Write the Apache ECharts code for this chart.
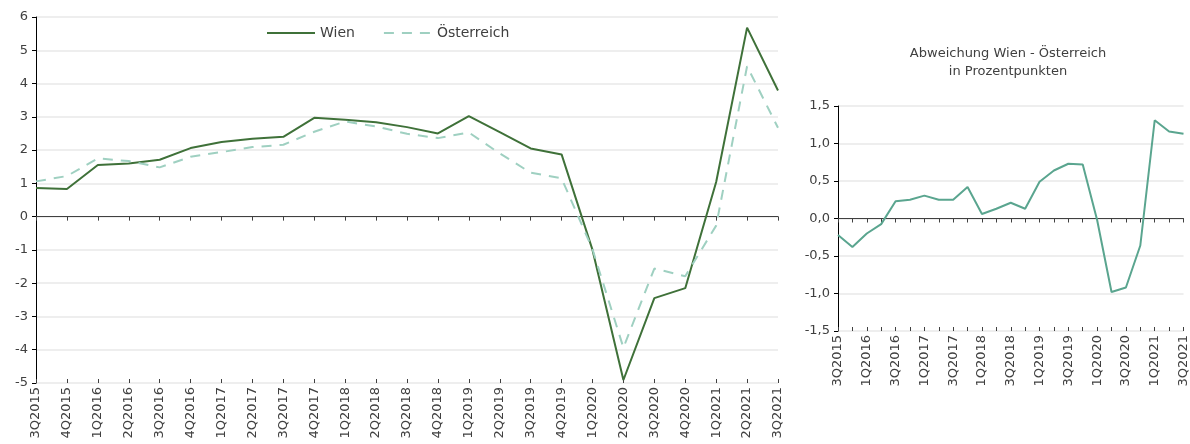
<!DOCTYPE html>
<html>
<head>
<meta charset="utf-8">
<script src="https://cdn.jsdelivr.net/npm/echarts@6/dist/echarts.min.js"></script>
<style>
  html, body { margin: 0; padding: 0; background: #fff; }
  #main { width: 1190px; height: 444px; }
</style>
</head>
<body>
<div id="main"></div>
<script>
// Quartale
var quarters = ['3Q2015', '4Q2015', '1Q2016', '2Q2016', '3Q2016', '4Q2016', '1Q2017', '2Q2017', '3Q2017',
  '4Q2017', '1Q2018', '2Q2018', '3Q2018', '4Q2018', '1Q2019', '2Q2019', '3Q2019', '4Q2019',
  '1Q2020', '2Q2020', '3Q2020', '4Q2020', '1Q2021', '2Q2021', '3Q2021'];

var wien = [0.86, 0.83, 1.55, 1.60, 1.71, 2.06, 2.24, 2.34, 2.40, 2.97, 2.91, 2.84, 2.69, 2.50,
  3.02, 2.54, 2.05, 1.87, -1.00, -4.91, -2.45, -2.15, 1.04, 5.68, 3.79];
var oesterreich = [1.06, 1.22, 1.75, 1.67, 1.48, 1.80, 1.94, 2.09, 2.16, 2.55, 2.86, 2.71, 2.49, 2.36,
  2.53, 1.90, 1.32, 1.15, -0.98, -3.94, -1.56, -1.79, -0.27, 4.52, 2.67];
// Abweichung Wien - Österreich in Prozentpunkten
var abweichung = [-0.22, -0.38, -0.20, -0.075, 0.23, 0.25, 0.305, 0.25, 0.25, 0.42, 0.06, 0.13, 0.21, 0.13,
  0.49, 0.64, 0.73, 0.72, -0.02, -0.98, -0.92, -0.36, 1.31, 1.16, 1.13];

var chart = echarts.init(document.getElementById('main'));
var font = 'DejaVu Sans';
var txt = '#404040';

function catAxis(grid, opts) {
  var base = {
    type: 'category',
    gridIndex: grid,
    data: quarters,
    boundaryGap: false,
    axisLine: { show: false },
    axisTick: { show: false },
    axisLabel: { show: false },
    splitLine: { show: false }
  };
  return Object.assign(base, opts);
}

option = {
  textStyle: { fontFamily: font },
  animation: false,
  title: {
    text: 'Abweichung Wien - Österreich\nin Prozentpunkten',
    left: 1003,
    top: 40,
    textAlign: 'center',
    textStyle: { fontFamily: font, fontSize: 13, fontWeight: 'normal', color: txt, lineHeight: 18 }
  },
  legend: {
    top: 26,
    left: 266,
    padding: 0,
    itemWidth: 48,
    itemHeight: 10,
    itemGap: 28,
    itemStyle: { opacity: 0 },
    textStyle: { fontFamily: font, fontSize: 14, color: txt },
    data: ['Wien', 'Österreich']
  },
  grid: [
    { left: 36, right: 412, top: 17, bottom: 61 },
    { left: 838, right: 6, top: 106, bottom: 113 }
  ],
  xAxis: [
    // linke Grafik: Beschriftung unten
    catAxis(0, {
      position: 'bottom',
      axisLine: { show: false, onZero: false },
      axisLabel: { show: true, rotate: 90, interval: 0, fontSize: 13, color: txt, margin: 4, fontFamily: font }
    }),
    // Achse bei 0, Striche außen
    catAxis(0, {
      position: 'bottom',
      axisLine: { show: true, onZero: true, lineStyle: { color: '#404040', width: 1 } },
      axisTick: { show: true, interval: 0, length: 4, lineStyle: { color: '#404040' } }
    }),
    // Striche innen
    catAxis(0, {
      position: 'bottom',
      axisLine: { show: false, onZero: true },
      axisTick: { show: true, inside: true, interval: 0, length: 4, lineStyle: { color: '#404040' } }
    }),
    // rechte Grafik
    catAxis(1, {
      position: 'bottom',
      axisLine: { show: false, onZero: false },
      axisLabel: { show: true, rotate: 90, interval: 1, fontSize: 13, color: txt, margin: 4, fontFamily: font }
    }),
    catAxis(1, {
      position: 'bottom',
      axisLine: { show: true, onZero: true, lineStyle: { color: '#404040', width: 1 } },
      axisTick: { show: true, interval: 0, length: 4, lineStyle: { color: '#404040' } }
    }),
    catAxis(1, {
      position: 'bottom',
      axisLine: { show: false, onZero: true },
      axisTick: { show: true, inside: true, interval: 0, length: 4, lineStyle: { color: '#404040' } }
    })
  ],
  yAxis: [
    {
      type: 'value',
      gridIndex: 0,
      min: -5,
      max: 6,
      interval: 1,
      axisLine: { show: true, lineStyle: { color: '#000', width: 1 } },
      axisTick: { show: true, length: 4, lineStyle: { color: '#000' } },
      axisLabel: { fontSize: 13, color: txt, margin: 8, fontFamily: font },
      splitLine: { show: true, lineStyle: { color: '#eeeeee', width: 2 } }
    },
    {
      type: 'value',
      gridIndex: 1,
      min: -1.5,
      max: 1.5,
      interval: 0.5,
      axisLine: { show: true, lineStyle: { color: '#000', width: 1 } },
      axisTick: { show: true, length: 4, lineStyle: { color: '#000' } },
      axisLabel: {
        fontSize: 13, color: txt, margin: 8, fontFamily: font,
        formatter: function (v) { return v.toFixed(1).replace('.', ','); }
      },
      splitLine: { show: true, lineStyle: { color: '#eeeeee', width: 2 } }
    }
  ],
  series: [
    {
      name: 'Wien',
      type: 'line',
      xAxisIndex: 0,
      yAxisIndex: 0,
      data: wien,
      symbol: 'none',
      itemStyle: { color: '#3f7139' },
      lineStyle: { color: '#3f7139', width: 2 }
    },
    {
      name: 'Österreich',
      type: 'line',
      xAxisIndex: 0,
      yAxisIndex: 0,
      data: oesterreich,
      symbol: 'none',
      itemStyle: { color: '#9fd0c1' },
      lineStyle: { color: '#9fd0c1', width: 2, type: [10, 8] }
    },
    {
      name: 'Abweichung',
      type: 'line',
      xAxisIndex: 3,
      yAxisIndex: 1,
      data: abweichung,
      symbol: 'none',
      lineStyle: { color: '#5aa58f', width: 2 }
    }
  ]
};

chart.setOption(option);
</script>
</body>
</html>
